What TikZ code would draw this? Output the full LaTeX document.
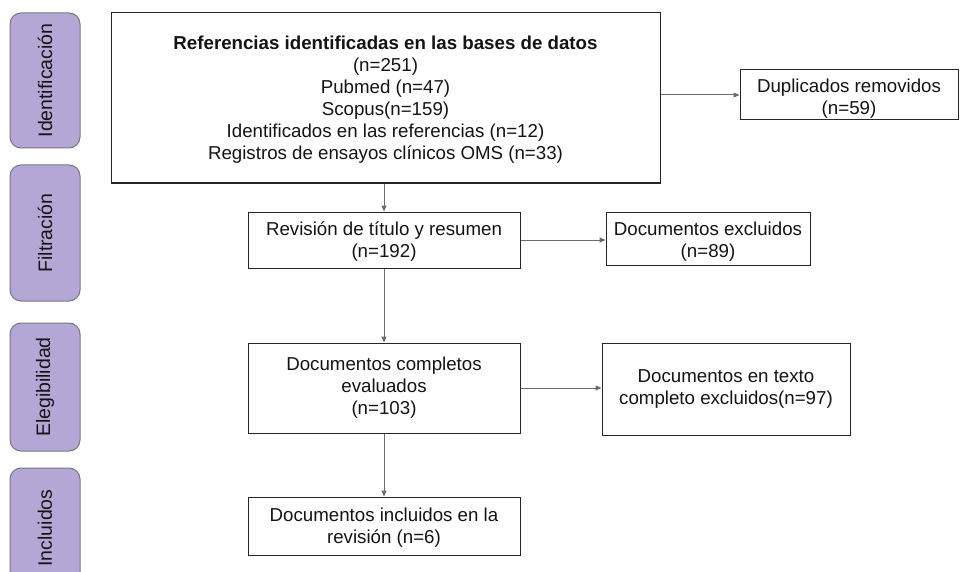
\documentclass[tikz,border=0pt]{standalone}
\usepackage{fontspec}
\setmainfont{Liberation Sans}
\usetikzlibrary{arrows.meta}
\definecolor{sidefill}{HTML}{B4A7D6}
\definecolor{sideline}{HTML}{7A7385}
\definecolor{arrowgray}{HTML}{6B6B6B}
\definecolor{txt}{HTML}{141414}
\tikzset{
  sidebox/.style={draw=sideline, line width=1pt, fill=sidefill, rounded corners=11pt,
    minimum width=70pt, inner sep=0pt, text=txt, font=\fontsize{19.5}{22}\selectfont},
  flowbox/.style={draw=black!85, line width=1pt, fill=white, align=center, inner sep=0pt,
    text=txt, font=\fontsize{18.7}{22}\selectfont},
  flowtext/.style={align=center, inner sep=0pt, text=txt, font=\fontsize{18.7}{22}\selectfont},
  link/.style={draw=arrowgray, line width=1pt, -{Triangle[length=6pt,width=5pt]}}
}
\begin{document}
\begin{tikzpicture}[x=1pt,y=-1pt]
\useasboundingbox (0,0) rectangle (960,572);
\clip (0,0) rectangle (960,572);
% side stage labels
\node[sidebox, minimum height=135pt] (sid) at (45,80.5) {\rotatebox{90}{Identificación}};
\node[sidebox, minimum height=136pt] (sfi) at (45,233) {\rotatebox{90}{Filtración}};
\node[sidebox, minimum height=128pt] (sel) at (45,387) {\rotatebox{90}{Elegibilidad}};
\node[sidebox, minimum height=120pt] (sin) at (45,528) {\rotatebox{90}{Incluidos}};
% flow boxes
\node[flowbox, minimum width=549pt, minimum height=170pt] (main) at (385.5,98) {};
\node[flowtext] (maintxt) at (385.5,100)
  {\textbf{Referencias identificadas en las bases de datos}\\(n=251)\\Pubmed (n=47)\\Scopus(n=159)\\Identificados en las referencias (n=12)\\Registros de ensayos clínicos OMS (n=33)};
\node[flowbox, minimum width=218pt, minimum height=50pt] (dup) at (849,95) {};
\node[flowtext] (duptxt) at (849,99) {Duplicados removidos\\(n=59)};
\node[flowbox, minimum width=272pt, minimum height=56pt] (rev) at (384,240) {};
\node[flowtext] (revtxt) at (384,241.5) {Revisión de título y resumen\\(n=192)};
\node[flowbox, minimum width=204pt, minimum height=53pt] (exc) at (708,238.5) {};
\node[flowtext] (exctxt) at (708,242) {Documentos excluidos\\(n=89)};
\node[flowbox, minimum width=272pt, minimum height=90pt] (com) at (384,388)
  {Documentos completos\\evaluados\\(n=103)};
\node[flowbox, minimum width=248pt, minimum height=92pt] (tex) at (726,389)
  {Documentos en texto\\completo excluidos(n=97)};
\node[flowbox, minimum width=272pt, minimum height=58pt] (inc) at (384,526) {};
\node[flowtext] (inctxt) at (384,528) {Documentos incluidos en la\\revisión (n=6)};
% connectors
\draw[link] (dup.west -| main.east) -- (dup.west);
\draw[link] (main.south -| rev.north) -- (rev.north);
\draw[link] (rev.east) -- (rev.east -| exc.west);
\draw[link] (rev.south) -- (com.north);
\draw[link] (com.east) -- (com.east -| tex.west);
\draw[link] (com.south) -- (inc.north);
\end{tikzpicture}
\end{document}
